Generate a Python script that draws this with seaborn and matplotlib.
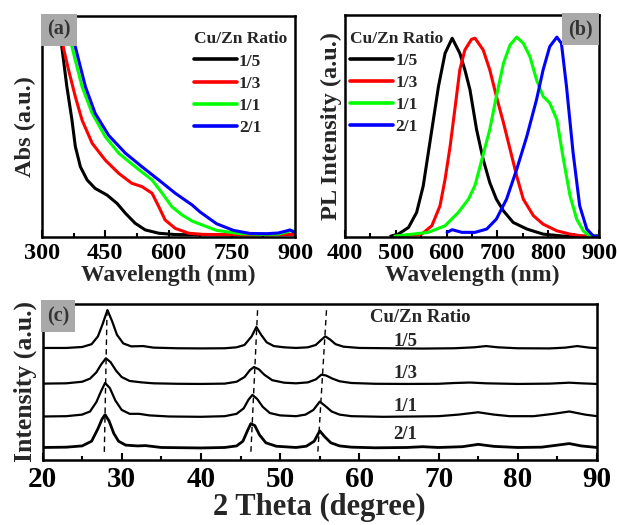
import seaborn as sns
import matplotlib.pyplot as plt
from matplotlib.ticker import MultipleLocator

# ---- data ----
ratios = ["1/5", "1/3", "1/1", "2/1"]
colors = ["#000000", "#ff0000", "#00ff00", "#0000ff"]

# (a) absorption, normalised to axes height
abs_wl_15 = [335, 347, 359, 371, 379, 391, 407, 426, 454, 478, 498, 521, 545, 577, 616, 700, 800, 900]
abs_15 = [1.1, 0.86, 0.68, 0.53, 0.41, 0.318, 0.258, 0.22, 0.19, 0.152, 0.107, 0.062, 0.032, 0.017, 0.011, 0.01, 0.01, 0.012]
abs_wl_13 = [335, 351, 363, 379, 395, 419, 450, 482, 513, 537, 561, 577, 592, 616, 648, 680, 750, 900]
abs_13 = [1.1, 0.854, 0.756, 0.635, 0.529, 0.424, 0.348, 0.288, 0.243, 0.228, 0.198, 0.137, 0.077, 0.039, 0.017, 0.012, 0.01, 0.012]
abs_wl_11 = [352, 367, 379, 395, 419, 450, 482, 521, 561, 585, 608, 632, 656, 675, 714, 770, 820, 860, 880, 890, 900]
abs_11 = [1.1, 0.891, 0.80, 0.68, 0.56, 0.454, 0.379, 0.318, 0.258, 0.198, 0.137, 0.1, 0.072, 0.058, 0.03, 0.015, 0.012, 0.013, 0.022, 0.03, 0.025]
abs_wl_21 = [360, 375, 387, 403, 426, 458, 498, 537, 577, 616, 656, 675, 714, 754, 793, 833, 860, 875, 888, 900]
abs_21 = [1.1, 0.891, 0.80, 0.68, 0.56, 0.46, 0.379, 0.318, 0.258, 0.198, 0.145, 0.113, 0.06, 0.03, 0.016, 0.015, 0.018, 0.025, 0.032, 0.02]

# (b) photoluminescence, normalised
pl_wl_15 = [490, 505, 525, 541, 554, 564, 574, 584, 597, 611, 626, 636, 646, 659, 672, 685, 698, 712, 731, 758, 790, 830, 900]
pl_15 = [0, 0.009, 0.039, 0.107, 0.227, 0.377, 0.527, 0.677, 0.827, 0.895, 0.827, 0.752, 0.662, 0.482, 0.347, 0.242, 0.167, 0.114, 0.062, 0.032, 0.009, 0.0, 0]
pl_wl_13 = [500, 551, 571, 587, 597, 607, 617, 626, 636, 649, 656, 672, 685, 698, 712, 725, 738, 751, 771, 790, 817, 843, 869, 900]
pl_13 = [0, 0.009, 0.047, 0.137, 0.257, 0.407, 0.587, 0.752, 0.842, 0.89, 0.895, 0.842, 0.752, 0.632, 0.512, 0.392, 0.272, 0.167, 0.092, 0.054, 0.024, 0.009, 0.0, 0]
pl_wl_11 = [498, 564, 597, 623, 643, 656, 666, 685, 698, 712, 725, 738, 751, 764, 777, 790, 803, 817, 830, 843, 856, 869, 882, 900]
pl_11 = [0, 0.017, 0.047, 0.107, 0.167, 0.23, 0.317, 0.482, 0.632, 0.782, 0.865, 0.9, 0.872, 0.812, 0.707, 0.632, 0.602, 0.527, 0.347, 0.182, 0.077, 0.024, 0.0, 0]
pl_wl_21 = [601, 611, 630, 656, 679, 698, 718, 738, 758, 777, 790, 803, 817, 826, 836, 849, 862, 876, 889, 900]
pl_21 = [0.017, 0.029, 0.017, 0.017, 0.032, 0.077, 0.167, 0.302, 0.452, 0.617, 0.752, 0.857, 0.9, 0.872, 0.677, 0.377, 0.137, 0.032, 0.0, 0]

# (c) XRD patterns, offset, normalised to axes height
xrd_x_15 = [20, 23, 25, 26.2, 27, 27.6, 28.2, 28.8, 29.4, 30.2, 31.2, 32.7, 34, 37, 40, 43, 44.5, 45.5, 46.4, 47.0, 47.6, 48.3, 49.2, 50.5, 52, 53.5, 54.5, 55.2, 55.7, 56.3, 57, 58, 60, 64, 68, 72, 74.5, 76, 77.5, 80, 84, 86, 87.5, 89, 90]
xrd_15 = [0.716, 0.716, 0.722, 0.74, 0.79, 0.87, 0.958, 0.885, 0.80, 0.745, 0.726, 0.728, 0.718, 0.714, 0.713, 0.714, 0.72, 0.735, 0.79, 0.85, 0.80, 0.752, 0.728, 0.72, 0.716, 0.72, 0.735, 0.768, 0.79, 0.77, 0.74, 0.724, 0.716, 0.714, 0.712, 0.714, 0.72, 0.728, 0.72, 0.714, 0.713, 0.718, 0.728, 0.718, 0.715]
xrd_x_13 = [20, 23, 25, 26, 26.8, 27.4, 28.0, 28.6, 29.3, 30.0, 31, 32.5, 34, 37, 40, 43, 44.5, 45.5, 46.2, 46.7, 47.3, 48.0, 49, 50.5, 52, 53.5, 54.5, 55.2, 55.8, 56.6, 57.5, 59, 62, 66, 70, 72, 74, 76, 80, 84, 86.5, 88, 90]
xrd_13 = [0.488, 0.49, 0.50, 0.52, 0.56, 0.61, 0.65, 0.625, 0.57, 0.53, 0.505, 0.496, 0.49, 0.487, 0.486, 0.488, 0.50, 0.53, 0.575, 0.594, 0.58, 0.545, 0.51, 0.494, 0.49, 0.496, 0.515, 0.545, 0.54, 0.52, 0.503, 0.492, 0.487, 0.486, 0.487, 0.492, 0.495, 0.49, 0.486, 0.488, 0.494, 0.49, 0.486]
xrd_x_11 = [20, 23, 25, 26, 26.8, 27.4, 27.9, 28.5, 29.2, 30.0, 31, 32.2, 33.5, 36, 40, 43, 44.5, 45.4, 46.0, 46.5, 47.1, 47.8, 48.7, 50, 52, 53.2, 54.2, 55.0, 55.7, 56.5, 57.5, 59, 63, 67, 70, 72.5, 75, 77, 79, 82, 84.5, 86.5, 88.5, 90]
xrd_11 = [0.278, 0.28, 0.29, 0.31, 0.37, 0.44, 0.492, 0.46, 0.38, 0.32, 0.295, 0.295, 0.285, 0.278, 0.276, 0.28, 0.295, 0.33, 0.385, 0.416, 0.39, 0.34, 0.30, 0.285, 0.28, 0.29, 0.32, 0.373, 0.345, 0.31, 0.29, 0.28, 0.276, 0.278, 0.28, 0.29, 0.305, 0.29, 0.28, 0.28, 0.295, 0.31, 0.29, 0.28]
xrd_x_21 = [20, 23, 25, 26.2, 27, 27.5, 27.9, 28.4, 29, 29.6, 30.5, 32, 33, 35, 40, 43, 44.5, 45.3, 45.9, 46.3, 46.8, 47.4, 48.2, 49.5, 52, 53.3, 54.3, 55.0, 55.6, 56.4, 57.5, 59, 62, 66, 68, 70, 73, 75, 77, 80, 83, 85, 86.5, 88, 90]
xrd_21 = [0.08, 0.082, 0.09, 0.12, 0.2, 0.26, 0.29, 0.25, 0.17, 0.12, 0.095, 0.09, 0.092, 0.08, 0.077, 0.08, 0.09, 0.12, 0.19, 0.232, 0.22, 0.16, 0.11, 0.088, 0.08, 0.088, 0.12, 0.186, 0.15, 0.11, 0.09, 0.082, 0.078, 0.08, 0.085, 0.08, 0.085, 0.1, 0.087, 0.08, 0.082, 0.095, 0.105, 0.09, 0.08]
xrd_lw = [1.6, 1.6, 1.6, 2.0]

# guide lines for the three peaks (top x, bottom x)
dash_top = [28.15, 47.15, 55.85]
dash_bottom = [27.8, 46.3, 54.75]
dash_y = [0.957, 0.043]

label_x = 65.8
label_y = [0.76, 0.555, 0.34, 0.16]

sns.set_style("ticks")
plt.rcParams["font.family"] = ["Liberation Serif", "DejaVu Serif"]
plt.rcParams["font.weight"] = "bold"
plt.rcParams["axes.labelweight"] = "bold"

W, H = 617, 525
fig = plt.figure(figsize=(W / 100, H / 100), dpi=100)


def px_axes(l, r, t, b):
    return fig.add_axes([l / W, 1 - b / H, (r - l) / W, (b - t) / H])


def style(ax, lsize):
    for s in ax.spines.values():
        s.set_linewidth(1.8)
        s.set_color("black")
    ax.tick_params(axis="x", which="both", direction="in", width=1.5,
                   labelsize=lsize, pad=4, top=False, colors="black")
    ax.tick_params(axis="x", which="major", length=5)
    ax.tick_params(axis="x", which="minor", length=3)
    ax.set_yticks([])
    for t in ax.get_xticklabels():
        t.set_fontweight("bold")


def tag(ax, txt, x, ha):
    ax.text(x, 0.982, txt, transform=ax.transAxes, ha=ha, va="top",
            fontsize=14.5, fontweight="bold", color="#333333", zorder=5,
            bbox=dict(boxstyle="square,pad=0.3", fc="#a9a9a9", ec="none"))


def add_legend(ax, x, y):
    leg = ax.legend(title="Cu/Zn Ratio", loc="upper left", bbox_to_anchor=(x, y),
                    frameon=False, fontsize=12.5, handlelength=2.5, handletextpad=0.1,
                    labelspacing=0.34, borderpad=0, borderaxespad=0, alignment="left",
                    title_fontproperties={"weight": "bold", "size": 12.5})
    for h in leg.get_lines():
        h.set_linewidth(2.6)


# ---- (a) ----
ax1 = px_axes(42, 295, 16, 237)
for wl, ab, r, c in zip([abs_wl_15, abs_wl_13, abs_wl_11, abs_wl_21],
                        [abs_15, abs_13, abs_11, abs_21], ratios, colors):
    sns.lineplot(x=wl, y=ab, ax=ax1, color=c, lw=2.2, label=r, sort=False)
ax1.set_xlim(300, 900)
ax1.set_ylim(0, 1)
ax1.xaxis.set_major_locator(MultipleLocator(150))
ax1.xaxis.set_minor_locator(MultipleLocator(75))
style(ax1, 17.5)
ax1.set_xlabel("Wavelength (nm)", fontsize=17, labelpad=1)
ax1.set_ylabel("Abs (a.u.)", fontsize=17.5, labelpad=4)
tag(ax1, "(a)", 0.02, "left")
add_legend(ax1, 0.6, 0.93)

# ---- (b) ----
ax2 = px_axes(345, 599, 15, 237)
for wl, pl, r, c in zip([pl_wl_15, pl_wl_13, pl_wl_11, pl_wl_21],
                        [pl_15, pl_13, pl_11, pl_21], ratios, colors):
    sns.lineplot(x=wl, y=pl, ax=ax2, color=c, lw=2.2, label=r, sort=False)
ax2.set_xlim(400, 900)
ax2.set_ylim(-0.004, 1)
ax2.xaxis.set_major_locator(MultipleLocator(100))
ax2.xaxis.set_minor_locator(MultipleLocator(50))
style(ax2, 17.5)
ax2.set_xlabel("Wavelength (nm)", fontsize=17, labelpad=1)
ax2.set_ylabel("PL Intensity (a.u.)", fontsize=17.5, labelpad=2)
tag(ax2, "(b)", 0.975, "right")
add_legend(ax2, 0.02, 0.93)

# ---- (c) ----
ax3 = px_axes(42.5, 597, 303.5, 460)
for xx, yy, w in zip([xrd_x_15, xrd_x_13, xrd_x_11, xrd_x_21],
                     [xrd_15, xrd_13, xrd_11, xrd_21], xrd_lw):
    sns.lineplot(x=xx, y=yy, ax=ax3, color="black", lw=w, sort=False)
for xt, xb in zip(dash_top, dash_bottom):
    ax3.plot([xt, xb], dash_y, ls=(0, (4, 3)), color="black", lw=1.0)
ax3.set_xlim(20, 90)
ax3.set_ylim(0, 1)
ax3.xaxis.set_major_locator(MultipleLocator(10))
ax3.xaxis.set_minor_locator(MultipleLocator(5))
style(ax3, 21)
ax3.set_xlabel("2 Theta (degree)", fontsize=22, labelpad=0)
ax3.set_ylabel("Intensity (a.u.)", fontsize=18.5, labelpad=4)
tag(ax3, "(c)", 0.008, "left")
ax3.text(67.7, 0.91, "Cu/Zn Ratio", ha="center", va="center",
         fontsize=13.5, fontweight="bold")
for r, yv in zip(ratios, label_y):
    ax3.text(label_x, yv, r, ha="center", va="center", fontsize=13.5, fontweight="bold")

fig.savefig("out.png", dpi=100)
